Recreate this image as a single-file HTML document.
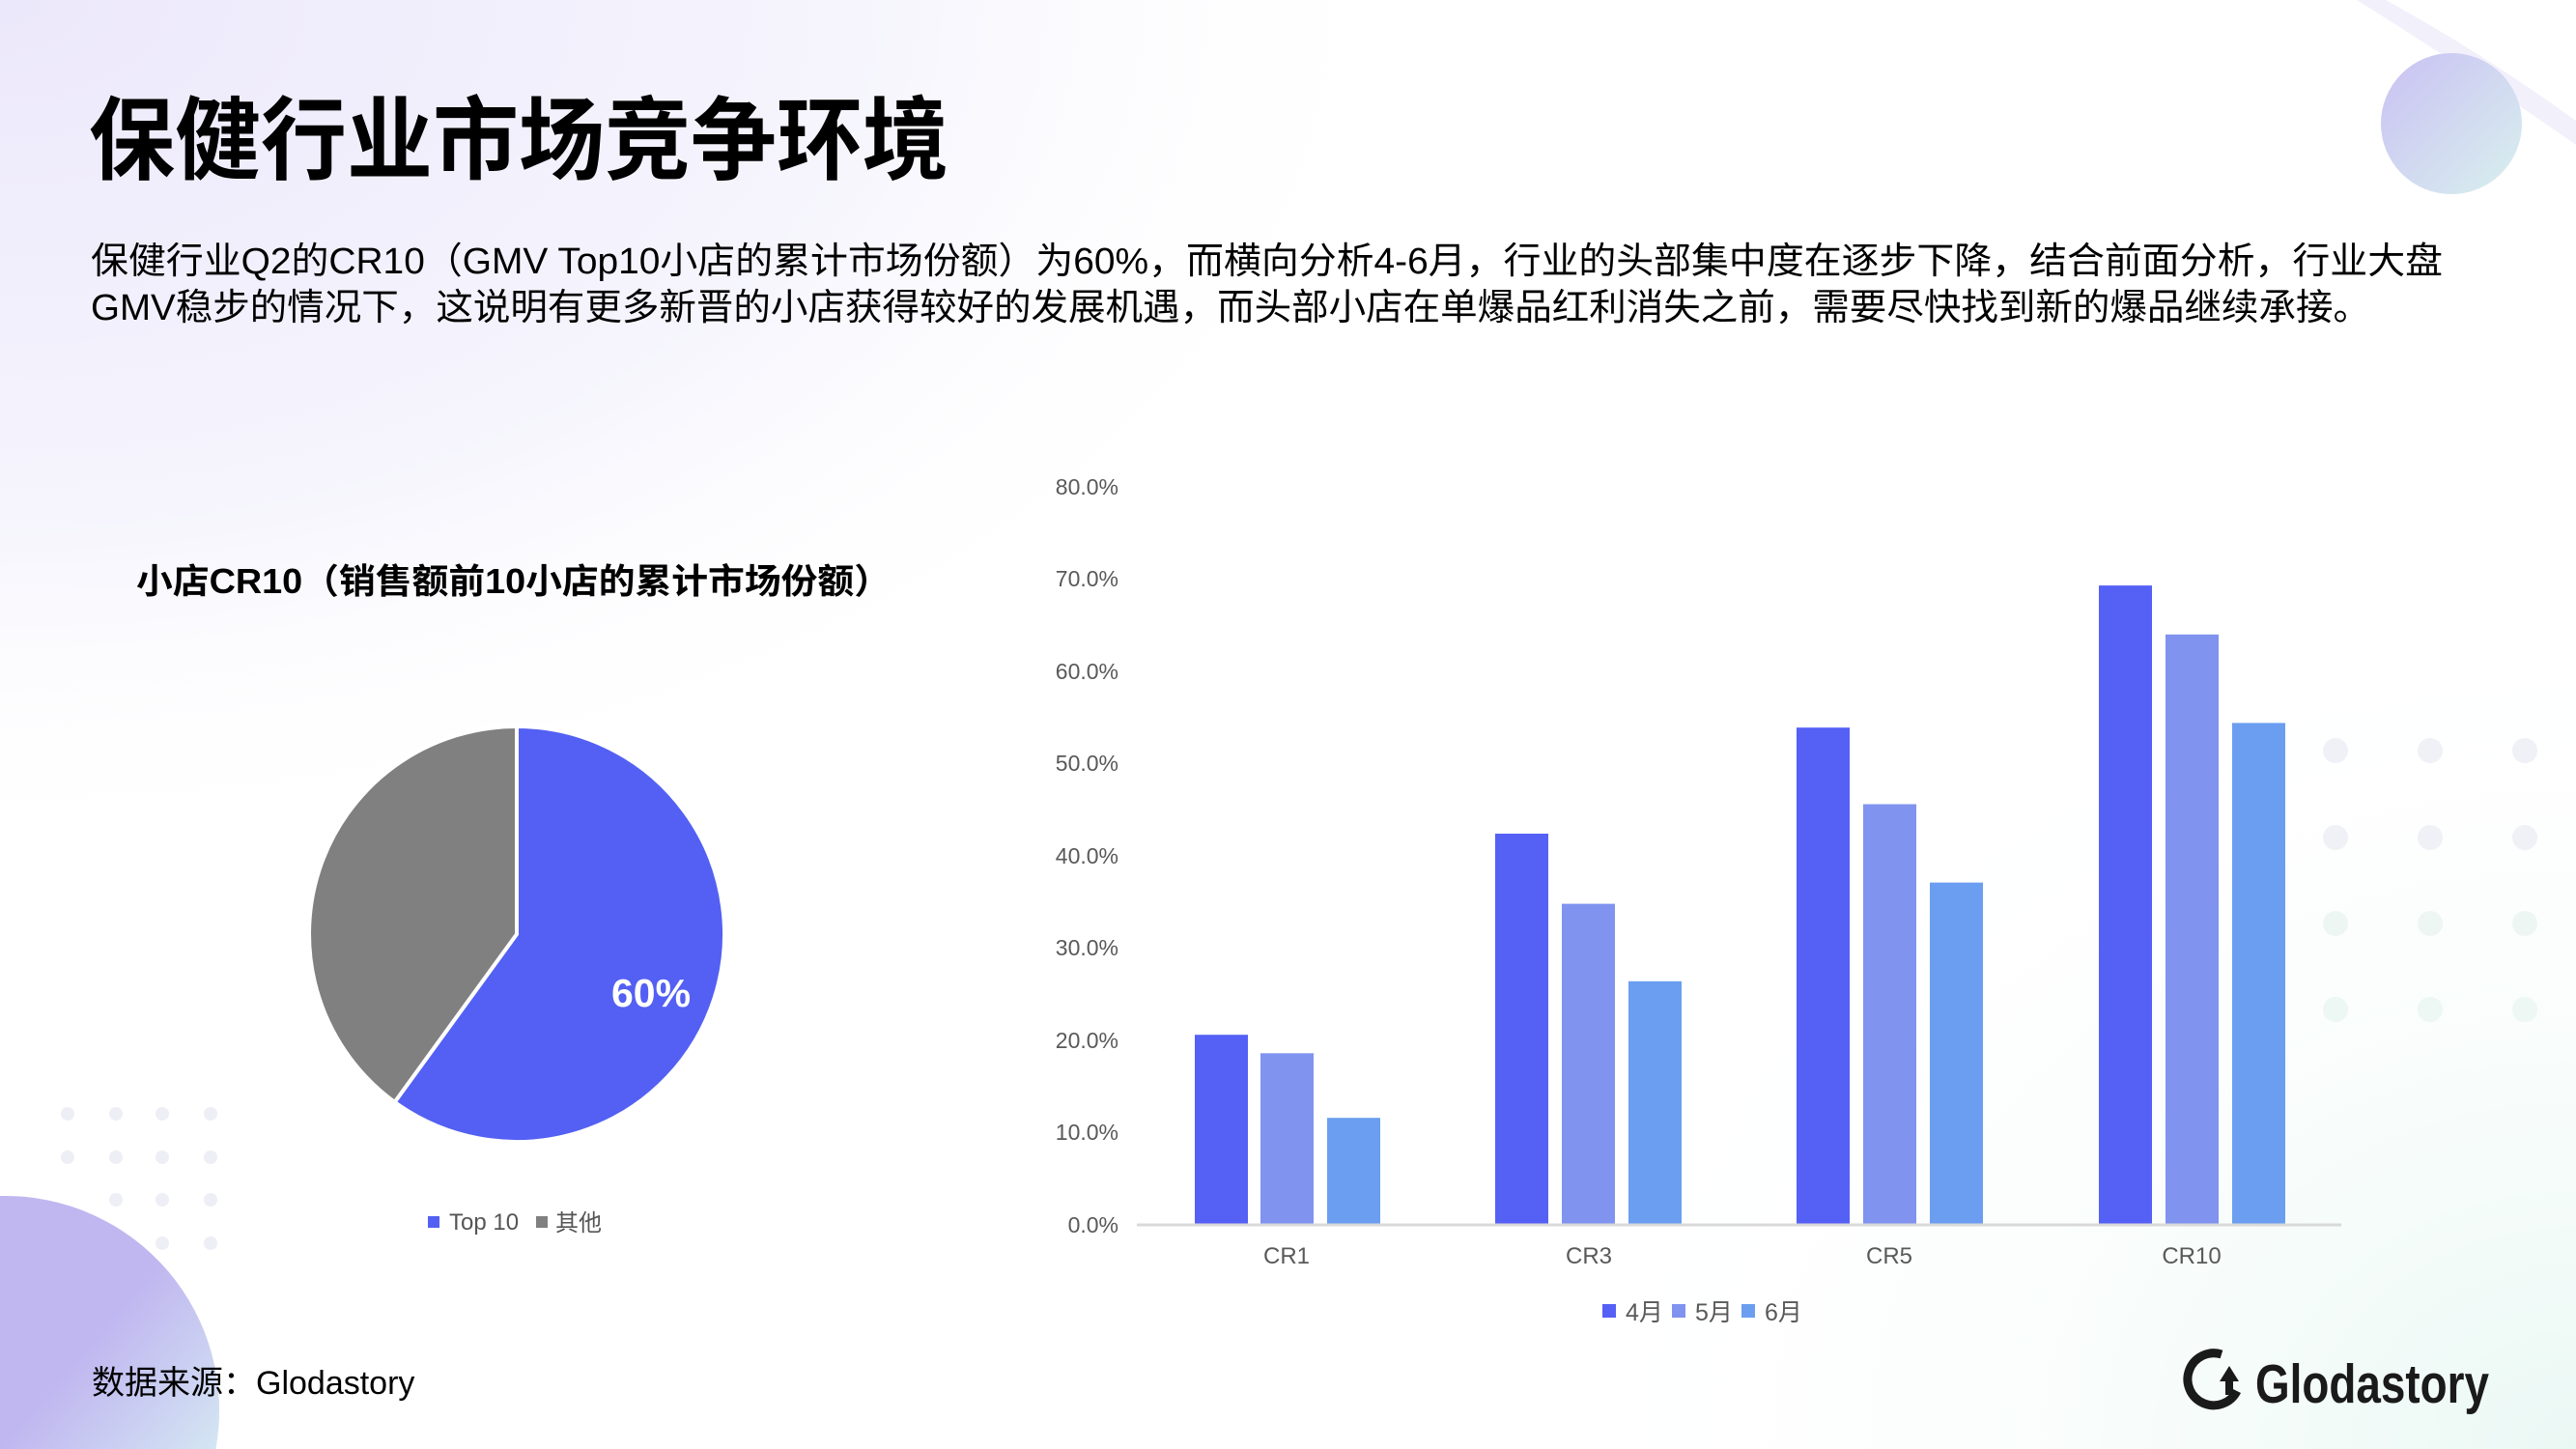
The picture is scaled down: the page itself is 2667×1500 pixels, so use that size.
<!DOCTYPE html>
<html><head><meta charset="utf-8"><style>
html,body{margin:0;padding:0;width:2667px;height:1500px;overflow:hidden;}
body{background:#fff;}
svg{display:block;position:absolute;left:0;top:0;}
text{font-family:"Liberation Sans","Noto Sans CJK SC",sans-serif;}
</style></head><body>
<svg width="2667" height="1500" viewBox="0 0 2667 1500" xmlns="http://www.w3.org/2000/svg">
<defs>
<radialGradient id="bgA" cx="0" cy="0" r="1" gradientUnits="userSpaceOnUse" gradientTransform="translate(0,0) scale(1500,900)">
<stop offset="0" stop-color="#ece8fb"/><stop offset="0.6" stop-color="#f6f5fd"/><stop offset="1" stop-color="#ffffff" stop-opacity="0"/></radialGradient>
<radialGradient id="bgB" cx="0" cy="0" r="1" gradientUnits="userSpaceOnUse" gradientTransform="translate(2667,1500) scale(1100,900)">
<stop offset="0" stop-color="#eaf8f4"/><stop offset="1" stop-color="#ffffff" stop-opacity="0"/></radialGradient>
<linearGradient id="circTR" x1="0" y1="0" x2="1" y2="1"><stop offset="0" stop-color="#c9c0f3"/><stop offset="1" stop-color="#d9f1ee"/></linearGradient>
<linearGradient id="circBL" x1="0" y1="0" x2="1" y2="1"><stop offset="0.5" stop-color="#c0b7f0"/><stop offset="1" stop-color="#d4e6f3"/></linearGradient>
</defs>
<rect width="2667" height="1500" fill="#fff"/>
<rect width="2667" height="1500" fill="url(#bgA)"/>
<rect width="2667" height="1500" fill="url(#bgB)"/>
<path d="M2440 0 L2470 0 Q2570 55 2667 125 L2667 150 Q2560 75 2440 0 Z" fill="#f2f0fb"/>
<circle cx="2538" cy="128" r="73" fill="url(#circTR)"/>
<path d="M0 1238 A222 222 0 0 1 223.4 1500 L0 1500 Z" fill="url(#circBL)"/>
<g fill="#eeeef6">
<circle cx="70" cy="1153" r="7"/><circle cx="120" cy="1153" r="7"/><circle cx="168" cy="1153" r="7"/><circle cx="218" cy="1153" r="7"/>
<circle cx="70" cy="1198" r="7"/><circle cx="120" cy="1198" r="7"/><circle cx="168" cy="1198" r="7"/><circle cx="218" cy="1198" r="7"/>
<circle cx="120" cy="1242" r="7"/><circle cx="168" cy="1242" r="7"/><circle cx="218" cy="1242" r="7"/>
<circle cx="168" cy="1287" r="7"/><circle cx="218" cy="1287" r="7"/>
</g>
<g fill="#f0f0f7">
<circle cx="2418" cy="777" r="13"/><circle cx="2516" cy="777" r="13"/><circle cx="2614" cy="777" r="13"/>
<circle cx="2418" cy="867" r="13"/><circle cx="2516" cy="867" r="13"/><circle cx="2614" cy="867" r="13"/>
<circle cx="2418" cy="956" r="13" fill="#eef6f4"/><circle cx="2516" cy="956" r="13" fill="#eef6f4"/><circle cx="2614" cy="956" r="13" fill="#eef6f4"/>
<circle cx="2418" cy="1045" r="13" fill="#edf7f3"/><circle cx="2516" cy="1045" r="13" fill="#edf7f3"/><circle cx="2614" cy="1045" r="13" fill="#edf7f3"/>
</g>

<text x="92" y="178" font-size="94" font-weight="bold" fill="#000" textLength="890" lengthAdjust="spacingAndGlyphs">保健行业市场竞争环境</text>
<text x="94" y="283" font-size="38" fill="#000" textLength="2435" lengthAdjust="spacingAndGlyphs">保健行业Q2的CR10（GMV Top10小店的累计市场份额）为60%，而横向分析4-6月，行业的头部集中度在逐步下降，结合前面分析，行业大盘</text>
<text x="94" y="331" font-size="38" fill="#000" textLength="2360" lengthAdjust="spacingAndGlyphs">GMV稳步的情况下，这说明有更多新晋的小店获得较好的发展机遇，而头部小店在单爆品红利消失之前，需要尽快找到新的爆品继续承接。</text>

<text x="141" y="614" font-size="36" font-weight="bold" fill="#000" textLength="781" lengthAdjust="spacingAndGlyphs">小店CR10（销售额前10小店的累计市场份额）</text>
<path d="M535 967 L535 752 A215 215 0 1 1 408.6 1140.9 Z" fill="#5360f3" stroke="#fff" stroke-width="4"/>
<path d="M535 967 L408.6 1140.9 A215 215 0 0 1 535 752 Z" fill="#808080" stroke="#fff" stroke-width="4"/>
<text x="674" y="1042" font-size="41" font-weight="bold" fill="#fff" text-anchor="middle">60%</text>
<rect x="443" y="1259" width="12" height="12" fill="#5360f3"/>
<text x="465" y="1273" font-size="24" fill="#555">Top 10</text>
<rect x="555" y="1259" width="12" height="12" fill="#808080"/>
<text x="575" y="1274" font-size="24" fill="#555">其他</text>

<g font-size="23" fill="#595959" text-anchor="end">
<text x="1158" y="512">80.0%</text><text x="1158" y="607">70.0%</text><text x="1158" y="703">60.0%</text>
<text x="1158" y="798">50.0%</text><text x="1158" y="894">40.0%</text><text x="1158" y="989">30.0%</text>
<text x="1158" y="1085">20.0%</text><text x="1158" y="1180">10.0%</text><text x="1158" y="1276">0.0%</text>
</g>
<g>
<rect x="1237" y="1071.2" width="55" height="195.8" fill="#5560f5"/>
<rect x="1305" y="1090.3" width="55" height="176.7" fill="#8093ef"/>
<rect x="1374" y="1157.2" width="55" height="109.8" fill="#6b9ef0"/>
<rect x="1548" y="863.0" width="55" height="404.0" fill="#5560f5"/>
<rect x="1617" y="935.6" width="55" height="331.4" fill="#8093ef"/>
<rect x="1686" y="1015.8" width="55" height="251.2" fill="#6b9ef0"/>
<rect x="1860" y="753.2" width="55" height="513.8" fill="#5560f5"/>
<rect x="1929" y="832.5" width="55" height="434.5" fill="#8093ef"/>
<rect x="1998" y="913.6" width="55" height="353.4" fill="#6b9ef0"/>
<rect x="2173" y="606.1" width="55" height="660.9" fill="#5560f5"/>
<rect x="2242" y="656.8" width="55" height="610.2" fill="#8093ef"/>
<rect x="2311" y="748.4" width="55" height="518.6" fill="#6b9ef0"/>
</g>
<line x1="1177" y1="1268" x2="2424" y2="1268" stroke="#d9d9d9" stroke-width="3"/>
<g font-size="24" fill="#595959" text-anchor="middle">
<text x="1332" y="1308">CR1</text><text x="1645" y="1308">CR3</text><text x="1956" y="1308">CR5</text><text x="2269" y="1308">CR10</text>
</g>
<rect x="1659" y="1350" width="14" height="14" fill="#5560f5"/>
<text x="1683" y="1367" font-size="25" fill="#595959">4月</text>
<rect x="1731" y="1350" width="14" height="14" fill="#8093ef"/>
<text x="1755" y="1367" font-size="25" fill="#595959">5月</text>
<rect x="1803" y="1350" width="14" height="14" fill="#6b9ef0"/>
<text x="1827" y="1367" font-size="25" fill="#595959">6月</text>

<text x="95" y="1443" font-size="34" fill="#000">数据来源：Glodastory</text>
<g fill="#1a1a1a">
<path d="M2300 1402 A27 27 0 1 0 2316 1440" fill="none" stroke="#1a1a1a" stroke-width="9"/>
<path d="M2298 1430 L2308 1414 L2318 1430 Z"/>
<rect x="2304" y="1428" width="8" height="16"/>
</g>
<text x="2335" y="1452" font-size="57" font-weight="bold" fill="#1a1a1a" textLength="242" lengthAdjust="spacingAndGlyphs">Glodastory</text>
</svg>
</body></html>
